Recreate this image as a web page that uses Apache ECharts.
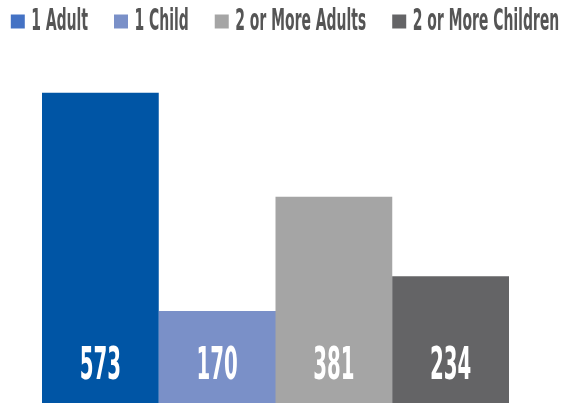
<!DOCTYPE html>
<html>
<head>
<meta charset="utf-8">
<script src="https://cdn.jsdelivr.net/npm/echarts@6/dist/echarts.min.js"></script>
<style>
html,body{margin:0;padding:0;background:#fff;width:570px;height:404px;overflow:hidden}
/* the reference uses a tall condensed typeface; emulate it by drawing at 2x width and squeezing horizontally */
#c{width:1140px;height:404px;transform:scaleX(0.5);transform-origin:0 0}
</style>
</head>
<body>
<div id="c"></div>
<script>
var seriesNames = ['1 Adult', '1 Child', '2 or More Adults', '2 or More Children'];
var seriesValues = [573, 170, 381, 234];
var barColors = ['#0055A5', '#7A90C8', '#A5A5A5', '#646466'];
var legendColors = ['#4472C4', '#7A90C8', '#A5A5A5', '#646466'];
var categories = [''];
var FONT = '"DejaVu Sans Condensed", "DejaVu Sans", sans-serif';
var SX = 0.5; // horizontal squeeze applied by CSS

var chart = echarts.init(document.getElementById('c'));
chart.setOption({
  animation: false,
  legend: {
    top: 1,
    left: 'center',
    itemWidth: 14 / SX,
    itemHeight: 14,
    itemGap: 26 / SX,
    icon: 'rect',
    textStyle: { fontFamily: FONT, fontWeight: 'bold', fontSize: 31, color: '#555555', padding: [0, 0, 0, 8] },
    data: seriesNames.map(function (n, i) { return { name: n, itemStyle: { color: legendColors[i] } }; })
  },
  grid: { left: 42 / SX, right: 61 / SX, top: 78, bottom: 1 },
  xAxis: { type: 'category', data: categories, show: false },
  yAxis: { type: 'value', min: 0, max: 600, show: false },
  series: seriesNames.map(function (n, i) {
    return {
      name: n,
      type: 'bar',
      barGap: '0%',
      barCategoryGap: '0%',
      data: [seriesValues[i]],
      itemStyle: { color: barColors[i] },
      label: {
        show: true,
        position: 'insideBottom',
        distance: 13,
        color: '#ffffff',
        fontFamily: FONT,
        fontWeight: 'bold',
        fontSize: 44
      }
    };
  })
});
</script>
</body>
</html>
